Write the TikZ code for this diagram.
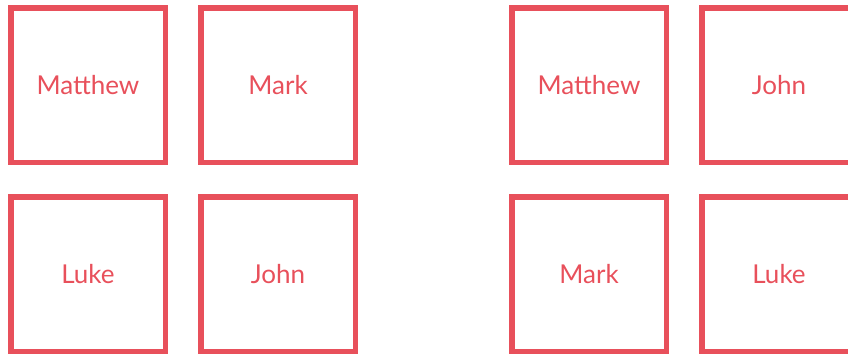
\documentclass[tikz,border=0pt]{standalone}
\usepackage{fontspec}
\setmainfont{Lato}
\definecolor{boxred}{HTML}{E8505B}
\begin{document}
\begin{tikzpicture}[x=1pt,y=-1pt,
  card/.style={draw=boxred, line width=5.5pt, minimum width=154.5pt, minimum height=154.5pt, inner sep=0pt, text=boxred, font=\fontsize{26}{30}\selectfont, anchor=center}]
\useasboundingbox (0,0) rectangle (848,356);
\node[card] (a1) at (88,85) {Matthew};
\node[card] (a2) at (278,85) {Mark};
\node[card] (a3) at (88,274) {Luke};
\node[card] (a4) at (278,274) {John};
\node[card] (b1) at (589,85) {Matthew};
\node[card] (b2) at (779,85) {John};
\node[card] (b3) at (589,274) {Mark};
\node[card] (b4) at (779,274) {Luke};
\end{tikzpicture}
\end{document}
